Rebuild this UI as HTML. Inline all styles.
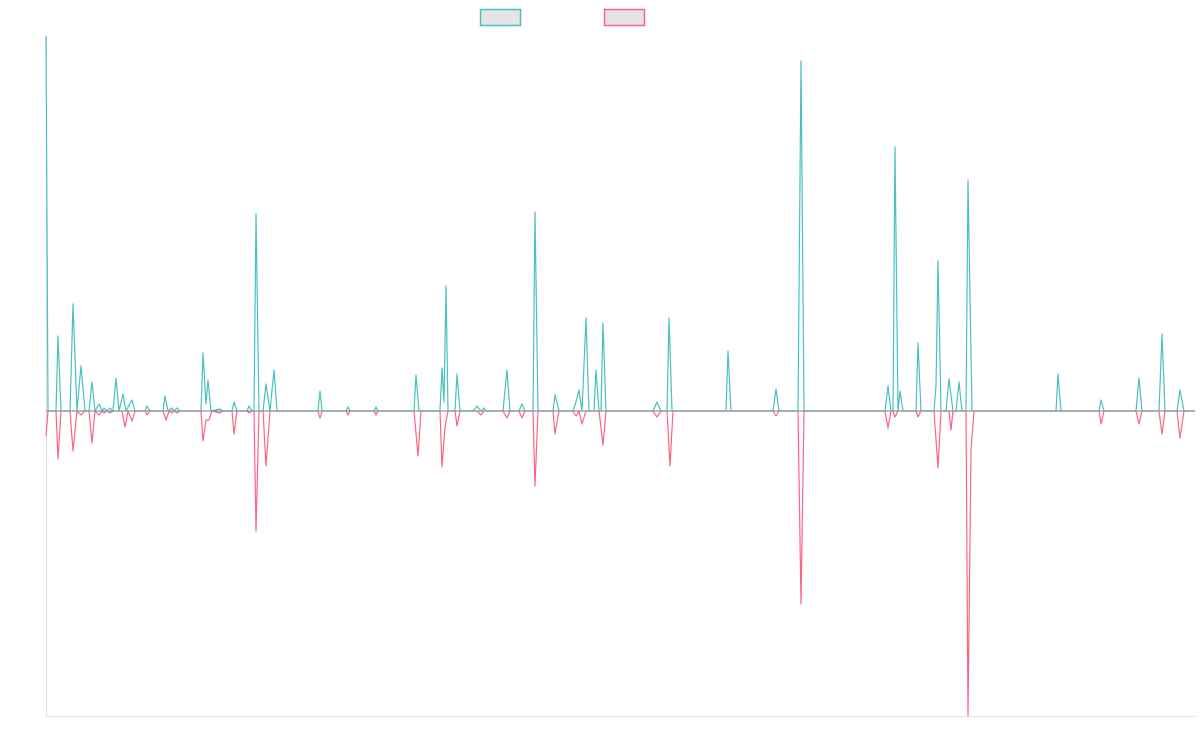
<!DOCTYPE html>
<html><head><meta charset="utf-8"><style>html,body{margin:0;padding:0;background:#fff;width:1200px;height:750px;overflow:hidden}</style></head>
<body>
<svg width="1200" height="750" xmlns="http://www.w3.org/2000/svg">
<rect x="480.5" y="9.5" width="40" height="16" fill="#e5e5e5" stroke="#4bc0c0" stroke-width="1.5"/>
<rect x="604.5" y="9.5" width="40" height="16" fill="#e5e5e5" stroke="#ff6384" stroke-width="1.5"/>
<line x1="46.5" y1="36" x2="46.5" y2="716" stroke="#e0e0e0"/>
<line x1="46" y1="716.5" x2="1195" y2="716.5" stroke="#e0e0e0"/>
<polyline fill="none" stroke="#ff6384" stroke-width="1.2" stroke-linejoin="round" points="46,436 48,411 56,411 58,459 61,411 70,411 73,451 77,411 81,415 85,411 89,411 92,443 95,411 99,415 102,411 104,413 107,411 110,413 113,411 122,411 125,427 128,411 132,421 135,411 145,411 147,415 150,411 163,411 166,420 169,411 172,413 174,411 177,413 180,411 201,411 203,441 206,420 209,420 212,411 220,413 223,411 232,411 234,434 237,411 247,411 249,413 252,411 254,411 256,531 259,411 263,411 266,466 270,411 318,411 320,418 322,411 346,411 348,415 350,411 374,411 376,415 378,411 414,411 418,456 421,411 440,411 442,467 445,427 448,411 455,411 457,426 460,411 477,411 481,415 484,411 503,411 507,418 510,411 519,411 522,418 525,411 533,411 535,486 538,411 553,411 555,434 559,411 573,411 576,416 579,411 582,424 586,411 599,411 603,445 606,411 653,411 657,417 661,411 667,411 670,466 673,411 773,411 776,416 779,411 798,411 801,604 804,411 885,411 888,428 891,411 893,411 895,417 898,411 916,411 918,417 921,411 934,411 938,468 941,411 949,411 951,430 953,411 966,411 968,716 971,450 974,411 1099,411 1101,424 1104,411 1136,411 1139,424 1142,411 1159,411 1162,434 1165,411 1177,411 1180,438 1184,411 1195,411"/>
<polyline fill="none" stroke="#4bc0c0" stroke-width="1.2" stroke-linejoin="round" points="46,36 48,411 56,411 58,336 61,411 70,411 73,304 77,411 81,366 85,411 89,411 92,382 95,411 99,404 102,411 104,408 107,411 110,408 113,411 116,378 119,411 123,394 126,411 132,400 135,411 145,411 147,406 150,411 163,411 165,396 168,411 172,408 174,411 177,408 180,411 201,411 203,353 206,404 208,380 211,411 220,409 223,411 232,411 234,402 237,411 247,411 249,406 252,411 254,411 256,214 259,411 263,411 266,384 270,411 274,370 277,411 318,411 320,391 322,411 346,411 348,407 350,411 374,411 376,407 378,411 414,411 416,375 419,411 440,411 442,368 444,402 446,286 448,411 455,411 457,374 460,411 473,411 477,406 481,411 484,408 486,411 503,411 507,370 510,411 519,411 522,404 525,411 533,411 535,212 538,411 553,411 555,395 559,411 573,411 576,402 579,390 582,411 586,318 589,411 594,411 596,370 599,411 601,411 603,323 606,411 653,411 657,402 661,411 667,411 669,318 672,411 726,411 728,351 731,411 773,411 776,389 779,411 798,411 801,61 804,411 885,411 888,386 891,411 893,411 895,147 898,411 900,391 903,411 916,411 918,343 921,411 934,411 936,386 938,261 941,411 946,411 949,379 953,411 956,411 959,382 962,411 966,411 968,180 972,411 1056,411 1058,374 1061,411 1099,411 1101,400 1104,411 1136,411 1139,378 1142,411 1159,411 1162,334 1165,411 1177,411 1180,390 1184,411 1195,411"/>
<line x1="46" y1="411" x2="1195" y2="411" stroke="#8a9a9a" stroke-width="1.2"/>
</svg>
</body></html>
